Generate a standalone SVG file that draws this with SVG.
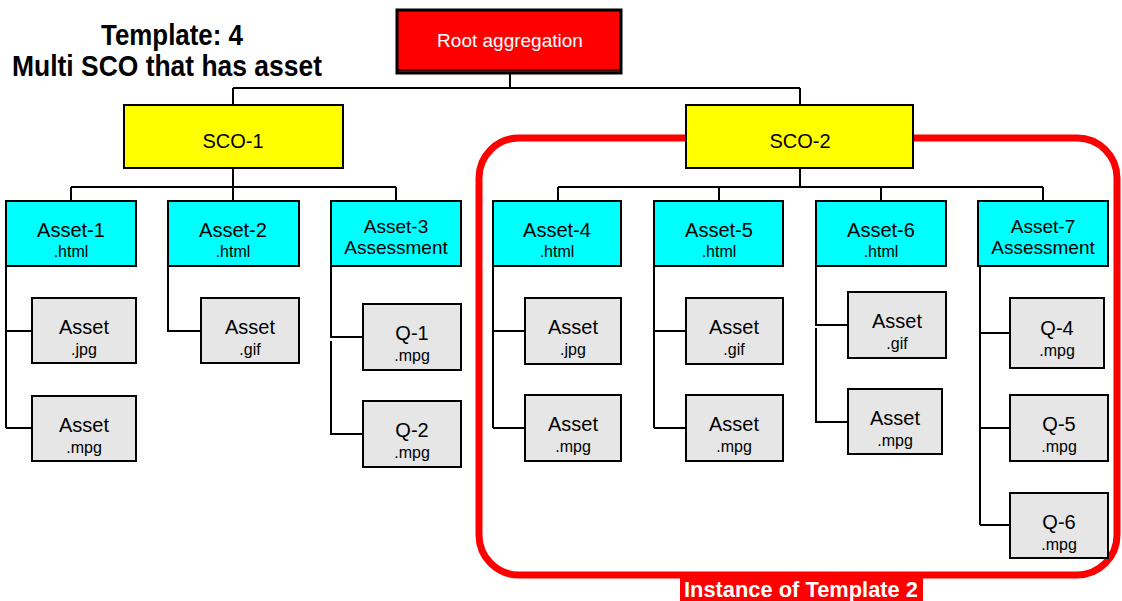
<svg xmlns="http://www.w3.org/2000/svg" width="1122" height="601" viewBox="0 0 1122 601">
<style>
text{font-family:"Liberation Sans",Arial,sans-serif;text-anchor:middle;fill:#000}
.t1{font-size:20px}
.t2{font-size:16px}
.t3{font-size:19px}
.cy{fill:#00ffff;stroke:#000;stroke-width:2}
.gr{fill:#e6e6e6;stroke:#000;stroke-width:2}
.ye{fill:#ffff00;stroke:#000;stroke-width:2}
.ln{fill:none;stroke:#000;stroke-width:2}
.title{font-size:30px;font-weight:bold}
</style>
<rect width="1122" height="601" fill="#fff"/>
<g id="title">
<text class="title" x="172" y="45" textLength="142" lengthAdjust="spacingAndGlyphs">Template: 4</text>
<text class="title" x="167" y="76" textLength="310" lengthAdjust="spacingAndGlyphs">Multi SCO that has asset</text>
</g>
<g id="instance-frame">
<rect x="479" y="138" width="638" height="437" rx="40" ry="40" fill="none" stroke="#ff0000" stroke-width="7"/>
<rect x="680" y="578" width="243" height="23" fill="#ff0000"/>
<text x="801" y="597" style="font-size:22px;font-weight:bold;fill:#fff" textLength="234" lengthAdjust="spacingAndGlyphs">Instance of Template 2</text>
</g>
<g id="connectors" class="ln">
<path class="ln" d="M510 73V88M233 88H800M233 88V105M800 88V105"/>
<path class="ln" d="M233 168V187M71 187H396M71 187V201M233 187V201M396 187V201"/>
<path class="ln" d="M800 168V187M558 187H1043M558 187V201M719 187V201M881 187V201M1043 187V201"/>
<path class="ln" d="M6 266V428M6 331H32M6 428H32"/>
<path class="ln" d="M168 266V331H201"/>
<path class="ln" d="M331 266V337H363M331 341V434H363"/>
<path class="ln" d="M493 266V428M493 331H525M493 428H525"/>
<path class="ln" d="M654 266V428M654 331H686M654 428H686"/>
<path class="ln" d="M816 266V325H848M816 328V422H848"/>
<path class="ln" d="M980 266V525M980 333H1010M980 428H1010M980 525H1010"/>
</g>
<g id="root">
<rect x="397" y="10" width="224" height="63" fill="#ff0000" stroke="#000" stroke-width="3"/>
<line x1="398" y1="70" x2="620" y2="70" stroke="#000" stroke-width="1.5"/>
<text x="510" y="47" style="font-size:19px;fill:#fff">Root aggregation</text>
</g>
<g id="sco-1">
<rect class="ye" x="124" y="105" width="219" height="63"/>
<text x="233" y="148" style="font-size:20px">SCO-1</text>
</g>
<g id="sco-2">
<rect class="ye" x="686" y="105" width="227" height="63"/>
<text x="800" y="148" style="font-size:20px">SCO-2</text>
</g>
<g id="asset-1">
<rect class="cy" x="6" y="201" width="130" height="65"/>
<text class="t1" x="71" y="237">Asset-1</text>
<text class="t2" x="71" y="257">.html</text>
</g>
<g id="asset-2">
<rect class="cy" x="168" y="201" width="131" height="65"/>
<text class="t1" x="233" y="237">Asset-2</text>
<text class="t2" x="233" y="257">.html</text>
</g>
<g id="asset-3">
<rect class="cy" x="331" y="201" width="130" height="65"/>
<text class="t3" x="396" y="233">Asset-3</text>
<text class="t3" x="396" y="254">Assessment</text>
</g>
<g id="asset-4">
<rect class="cy" x="493" y="201" width="128" height="65"/>
<text class="t1" x="557" y="237">Asset-4</text>
<text class="t2" x="557" y="257">.html</text>
</g>
<g id="asset-5">
<rect class="cy" x="654" y="201" width="129" height="65"/>
<text class="t1" x="719" y="237">Asset-5</text>
<text class="t2" x="719" y="257">.html</text>
</g>
<g id="asset-6">
<rect class="cy" x="816" y="201" width="130" height="65"/>
<text class="t1" x="881" y="237">Asset-6</text>
<text class="t2" x="881" y="257">.html</text>
</g>
<g id="asset-7">
<rect class="cy" x="978" y="201" width="130" height="65"/>
<text class="t3" x="1043" y="233">Asset-7</text>
<text class="t3" x="1043" y="254">Assessment</text>
</g>
<g id="a1-jpg">
<rect class="gr" x="32" y="298" width="104" height="65"/>
<text class="t1" x="84" y="334">Asset</text>
<text class="t2" x="84" y="355">.jpg</text>
</g>
<g id="a1-mpg">
<rect class="gr" x="32" y="396" width="104" height="65"/>
<text class="t1" x="84" y="432">Asset</text>
<text class="t2" x="84" y="453">.mpg</text>
</g>
<g id="a2-gif">
<rect class="gr" x="201" y="298" width="98" height="65"/>
<text class="t1" x="250" y="334">Asset</text>
<text class="t2" x="250" y="355">.gif</text>
</g>
<g id="q-1">
<rect class="gr" x="363" y="304" width="98" height="66"/>
<text class="t1" x="412" y="340">Q-1</text>
<text class="t2" x="412" y="361">.mpg</text>
</g>
<g id="q-2">
<rect class="gr" x="363" y="401" width="98" height="66"/>
<text class="t1" x="412" y="437">Q-2</text>
<text class="t2" x="412" y="458">.mpg</text>
</g>
<g id="a4-jpg">
<rect class="gr" x="525" y="298" width="96" height="66"/>
<text class="t1" x="573" y="334">Asset</text>
<text class="t2" x="573" y="355">.jpg</text>
</g>
<g id="a4-mpg">
<rect class="gr" x="525" y="395" width="96" height="66"/>
<text class="t1" x="573" y="431">Asset</text>
<text class="t2" x="573" y="452">.mpg</text>
</g>
<g id="a5-gif">
<rect class="gr" x="686" y="298" width="97" height="66"/>
<text class="t1" x="734" y="334">Asset</text>
<text class="t2" x="734" y="355">.gif</text>
</g>
<g id="a5-mpg">
<rect class="gr" x="686" y="395" width="97" height="66"/>
<text class="t1" x="734" y="431">Asset</text>
<text class="t2" x="734" y="452">.mpg</text>
</g>
<g id="a6-gif">
<rect class="gr" x="848" y="292" width="98" height="66"/>
<text class="t1" x="897" y="328">Asset</text>
<text class="t2" x="897" y="349">.gif</text>
</g>
<g id="a6-mpg">
<rect class="gr" x="848" y="389" width="94" height="65"/>
<text class="t1" x="895" y="425">Asset</text>
<text class="t2" x="895" y="446">.mpg</text>
</g>
<g id="q-4">
<rect class="gr" x="1010" y="298" width="94" height="70"/>
<text class="t1" x="1057" y="335">Q-4</text>
<text class="t2" x="1057" y="356">.mpg</text>
</g>
<g id="q-5">
<rect class="gr" x="1010" y="395" width="98" height="66"/>
<text class="t1" x="1059" y="431">Q-5</text>
<text class="t2" x="1059" y="452">.mpg</text>
</g>
<g id="q-6">
<rect class="gr" x="1010" y="493" width="98" height="65"/>
<text class="t1" x="1059" y="529">Q-6</text>
<text class="t2" x="1059" y="550">.mpg</text>
</g>
</svg>
